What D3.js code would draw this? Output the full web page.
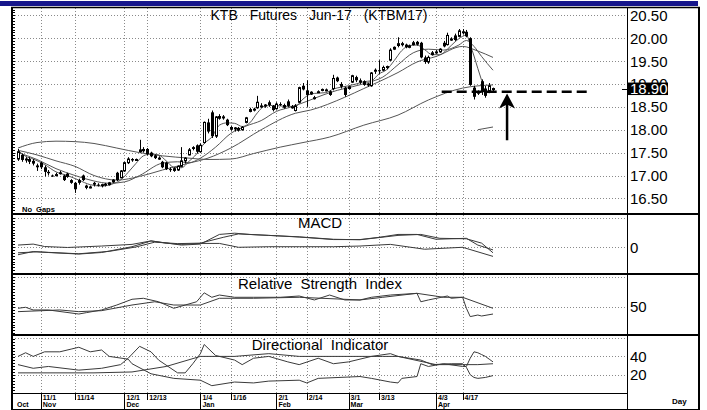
<!DOCTYPE html>
<html>
<head>
<meta charset="utf-8">
<script src="https://cdn.jsdelivr.net/npm/d3@7"></script>
<style>
  body { margin: 0; background: #fff; }
  svg { display: block; }
  text { font-family: Arial, "Liberation Sans", sans-serif; fill: #000; }
</style>
</head>
<body>
<div id="chart"></div>
<script>
// daily KTB futures candles, one per trading day (day 0 = late October)
const opens = [17.36,17.45,17.34,17.36,17.32,17.22,17.28,17.18,17.08,17.00,17.02,17.07,17.00,16.98,16.90,16.84,16.90,17.00,16.78,16.75,
  16.84,16.80,16.78,16.82,16.80,16.86,17.06,16.95,17.10,17.28,17.36,17.34,17.52,17.58,17.58,17.50,17.44,17.38,17.30,17.28,
  17.14,17.16,17.12,17.20,17.32,17.45,17.62,17.66,17.52,17.72,18.16,18.38,17.86,18.30,18.26,18.22,18.06,18.02,18.04,18.00,
  18.16,18.40,18.44,18.48,18.52,18.52,18.60,18.52,18.46,18.56,18.54,18.62,18.50,18.42,18.60,18.96,18.86,18.78,18.70,18.82,
  18.86,18.86,18.84,18.90,19.14,19.00,18.92,18.90,19.04,19.15,19.08,19.06,18.98,18.96,19.28,19.30,19.30,19.36,19.52,19.76,
  19.84,19.86,19.86,19.80,19.86,19.92,19.90,19.58,19.48,19.64,19.68,19.70,19.90,19.86,19.98,20.06,20.04,20.12,20.14,20.00,
  18.92,18.80,19.06,18.90,18.84,18.88];
const highs = [17.58,17.48,17.40,17.40,17.36,17.26,17.30,17.22,17.12,17.02,17.06,17.10,17.02,17.06,16.92,16.86,16.93,17.02,16.80,16.78,
  16.86,16.83,16.82,16.84,16.86,16.92,17.08,17.12,17.30,17.40,17.38,17.37,17.78,17.62,17.60,17.52,17.46,17.42,17.32,17.30,
  17.18,17.18,17.22,17.62,17.40,17.60,17.64,17.68,17.70,18.18,18.24,18.42,18.30,18.34,18.32,18.24,18.08,18.06,18.06,18.08,
  18.28,18.48,18.48,18.74,18.58,18.56,18.64,18.54,18.60,18.60,18.57,18.66,18.54,18.56,18.94,19.02,19.08,18.84,18.74,18.86,
  18.90,18.90,18.86,19.20,19.16,19.04,18.94,18.96,19.20,19.18,19.12,19.08,19.02,19.26,19.34,19.52,19.40,19.40,19.78,19.82,
  20.02,19.92,19.88,19.86,19.94,19.94,19.92,19.62,19.62,19.72,19.74,19.78,19.94,20.12,20.02,20.10,20.20,20.20,20.18,20.02,
  18.96,18.86,19.10,18.96,19.02,18.92];
const lows = [17.32,17.30,17.28,17.25,17.22,17.10,17.14,16.98,17.00,16.97,16.98,17.02,16.88,16.95,16.82,16.62,16.80,16.88,16.70,16.72,
  16.76,16.76,16.74,16.76,16.78,16.84,16.88,16.94,17.08,17.25,17.30,17.32,17.50,17.50,17.44,17.40,17.36,17.34,17.16,17.12,
  17.08,17.08,17.10,17.18,17.26,17.44,17.55,17.48,17.50,17.70,17.92,17.82,17.82,18.22,18.22,18.08,17.98,17.96,17.96,17.98,
  18.14,18.38,18.40,18.46,18.48,18.48,18.50,18.40,18.44,18.52,18.46,18.50,18.46,18.40,18.58,18.86,18.50,18.76,18.66,18.80,
  18.84,18.84,18.74,18.86,19.04,18.90,18.72,18.88,19.02,19.04,19.00,18.96,18.94,18.94,19.22,19.22,19.28,19.32,19.50,19.74,
  19.80,19.82,19.78,19.78,19.84,19.84,19.56,19.44,19.44,19.62,19.66,19.68,19.80,19.84,19.94,19.94,20.02,20.08,20.02,18.96,
  18.66,18.76,18.76,18.70,18.80,18.84];
const closes = [17.52,17.34,17.36,17.30,17.26,17.18,17.18,17.08,17.05,16.99,17.02,17.03,16.90,17.03,16.84,16.70,16.84,16.90,16.73,16.75,
  16.80,16.78,16.80,16.78,16.84,16.90,16.90,17.10,17.28,17.36,17.33,17.35,17.56,17.53,17.47,17.42,17.38,17.38,17.18,17.14,
  17.12,17.10,17.20,17.32,17.38,17.56,17.58,17.52,17.66,18.16,17.96,17.86,18.28,18.24,18.28,18.10,18.00,18.04,17.98,18.05,
  18.26,18.44,18.45,18.60,18.52,18.54,18.54,18.43,18.56,18.55,18.48,18.52,18.50,18.52,18.92,18.88,18.76,18.82,18.70,18.83,
  18.88,18.87,18.76,19.12,19.06,18.94,18.76,18.94,19.18,19.08,19.03,18.98,19.00,19.24,19.30,19.28,19.36,19.38,19.74,19.80,
  19.88,19.88,19.80,19.83,19.90,19.86,19.58,19.48,19.58,19.68,19.70,19.76,19.82,20.06,19.98,19.96,20.16,20.14,20.04,18.98,
  18.72,18.82,18.82,18.74,18.96,18.90];

// moving averages: [day, price]
const maShort = [[0,17.55],[2,17.42],[4,17.36],[7,17.24],[10,17.08],[13,17.0],[16,16.9],[19,16.8],[22,16.77],[25,16.82],[27,16.9],
  [29,17.07],[31,17.26],[33,17.43],[35,17.47],[37,17.45],[39,17.32],[41,17.18],[43,17.17],[45,17.31],[47,17.47],[49,17.7],
  [51,17.84],[53,18.1],[55,18.15],[57,18.14],[59,18.07],[61,18.15],[63,18.37],[65,18.52],[67,18.53],[69,18.52],[71,18.51],
  [73,18.51],[75,18.67],[77,18.78],[79,18.8],[81,18.81],[83,18.89],[85,18.93],[87,18.96],[89,19.0],[91,19.05],[93,19.07],
  [95,19.22],[97,19.31],[99,19.51],[101,19.73],[103,19.84],[105,19.85],[107,19.75],[109,19.64],[111,19.64],[113,19.76],
  [115,19.92],[117,20.04],[118,20.07],[119,19.86],[120,19.61],[121,19.34],[122,19.08],[123,18.82],[124,18.81],[125,18.85]];
const maMid = [[0,17.5],[5,17.35],[10,17.15],[15,17.0],[20,16.88],[24,16.83],[28,16.86],[32,17.0],[38,17.27],[42,17.3],[45,17.28],
  [48,17.38],[52,17.62],[56,17.92],[60,18.08],[64,18.2],[68,18.4],[72,18.5],[76,18.62],[80,18.75],[84,18.86],[88,18.94],
  [92,19.03],[96,19.15],[100,19.42],[104,19.68],[108,19.76],[112,19.74],[116,19.85],[118,19.95],[120,19.82],[122,19.6],[125,19.3]];
const maSlow = [[0,17.55],[5,17.45],[10,17.32],[15,17.2],[20,17.0],[26,16.9],[32,16.98],[38,17.12],[45,17.27],[50,17.38],
  [56,17.6],[64,18.0],[73,18.36],[77,18.43],[86,18.71],[91,18.9],[95,19.05],[100,19.25],[105,19.48],[110,19.6],[117,19.82],
  [121,19.72],[125,19.58]];
const maLong = [[0,17.6],[5,17.72],[10,17.75],[15,17.74],[20,17.7],[26,17.6],[32,17.5],[38,17.43],[45,17.38],[50,17.35],
  [56,17.36],[62,17.48],[69,17.62],[75,17.72],[82,17.84],[91,18.1],[100,18.32],[108,18.65],[117,18.91],[125,18.98]];
const maStub = [[121,18.0],[125,18.06]];

// MACD panel: [day, value]
const macdLine = [[0,-0.08],[4,-0.047],[8,-0.057],[16,-0.073],[22,-0.057],[30,0.003],[35,0.063],[43,0.02],[48,0.03],[53,0.13],
  [57,0.143],[61,0.13],[66,0.12],[74,0.103],[83,0.077],[90,0.077],[95,0.1],[100,0.13],[105,0.13],[110,0.08],[118,0.09],
  [121,0.02],[125,-0.03]];
const macdSignal = [[0,-0.06],[5,-0.05],[16,-0.07],[24,-0.045],[31,0.0],[36,0.05],[42,0.035],[48,0.04],[54,0.1],[58,0.135],
  [66,0.12],[74,0.105],[83,0.08],[90,0.075],[100,0.12],[106,0.13],[111,0.09],[118,0.085],[122,0.04],[125,-0.06]];
const macdDiff = [[0,0.02],[4,0.03],[7,0.005],[13,-0.005],[22,0.01],[30,0.027],[35,0.063],[39,0.04],[43,0.027],[48,0.037],
  [53,0.037],[58,-0.003],[66,0.003],[74,0.003],[83,0.003],[90,0.01],[98,0.027],[107,-0.023],[117,-0.003],[125,-0.097]];

// RSI panel
const rsi = [[0,48.4],[2,49.4],[4,46.7],[8,46.7],[16,42.6],[18,44],[22,46.7],[26,51.7],[30,57.5],[33,58.5],[37,55],[41,48.4],
  [44,51.7],[47,55],[49,64],[51,59.5],[53,61.8],[57,59.5],[62,59.5],[69,59.5],[74,60.8],[78,56.8],[82,61.8],[86,56.8],
  [90,56.8],[93,59.5],[98,61.8],[105,63.5],[106,55],[108,56.8],[113,60.8],[114,58.5],[117,59.5],[118,48.4],[119,40],
  [121,41.6],[122,40.6],[125,42.6]];
const rsiAvg = [[0,45],[11,46.7],[16,45],[22,46],[30,51.7],[36,55],[41,51.7],[48,51.7],[53,58.5],[62,58.5],[74,59.5],
  [90,56.8],[96,59.5],[105,63.5],[112,59.5],[117,59.5],[125,48.4]];

// Directional indicator panel
const diMinus = [[0,40],[2,44],[4,40],[7,45],[11,45],[14,48],[16,50],[19,45],[22,47],[24,40],[29,37],[30,32],[35,21],[41,16],
  [48,14],[51,8],[57,12],[62,11],[66,13],[74,14],[76,11],[79,16],[90,18],[93,16],[98,12],[100,11],[101,16],[105,18],
  [106,32],[108,29],[112,32],[117,29],[118,29],[119,38],[120,45],[121,44],[122,42],[123,40],[124,37],[125,34]];
const diPlus = [[0,31],[4,27],[8,29],[16,25],[22,27],[27,31],[29,38],[32,51],[35,45],[37,36],[42,22],[44,22],[46,32],[48,43],
  [49,53],[52,41],[57,36],[59,31],[62,38],[66,40],[71,34],[74,31],[79,38],[83,32],[87,34],[93,40],[98,43],[100,40],
  [106,36],[109,31],[114,32],[117,32],[118,28],[119,20],[120,17],[121,16],[123,17],[125,19]];
const adx = [[0,22],[10,22],[20,22],[30,23],[39,29],[48,40],[57,40],[66,43],[74,40],[90,40],[96,40],[100,40],[110,31],
  [117,31],[121,31],[125,32]];

// axis labels
const priceTicks = [16.5, 17, 17.5, 18, 18.5, 19, 19.5, 20, 20.5];
const tickDays = [6, 15, 28, 34, 48, 56, 68, 76, 87, 95, 110, 117];
const tickLabels = ["11/1", "11/14", "12/1", "12/13", "1/4", "1/16", "2/1", "2/14", "3/1", "3/13", "4/3", "4/17"];
const monthDays = [6, 28, 48, 68, 87, 110];
const monthLabels = ["Nov", "Dec", "Jan", "Feb", "Mar", "Apr"];
const lastPrice = 18.90;
const supportLevel = 18.83, supportFrom = 111.5, supportTo = 150;
const arrowDay = 128.7, arrowFrom = 17.77, arrowTo = 18.79;

const svg = d3.select("#chart").append("svg").attr("width", 707).attr("height", 410);

const left = 12, right = 627, edge = 699;
const x = d3.scaleLinear().domain([0, 125]).range([18, 493]);
const yP = d3.scaleLinear().domain([16.5, 20.5]).range([198.4, 15.3]);
const yM = d3.scaleLinear().domain([0, 0.3]).range([247, 218]);
const yR = d3.scaleLinear().domain([50, 80]).range([306.7, 277]);
const yD = d3.scaleLinear().domain([0, 40]).range([393, 356.4]);
const px = v => Math.round(v) + 0.5;

// blue strip on top
svg.append("rect").attr("x", 0).attr("y", 1).attr("width", 698).attr("height", 5).attr("fill", "#16168c");

// grid
const grid = svg.append("g").attr("stroke", "#8a8a8a").attr("stroke-dasharray", "1,2").attr("stroke-width", 1);
grid.selectAll("line.v").data(tickDays).join("line")
    .attr("x1", d => px(x(d))).attr("x2", d => px(x(d)))
    .attr("y1", 8).attr("y2", 393);
const hgrid = [
  ...priceTicks.map(yP),
  ...[0, 0.3].map(yM),
  ...[50, 80].map(yR),
  ...[20, 40, 60].map(yD)
];
grid.selectAll("line.h").data(hgrid).join("line")
    .attr("x1", left).attr("x2", right)
    .attr("y1", d => px(d)).attr("y2", d => px(d));

// left ruler ticks
const ruler = [
  ...d3.range(16.25, 20.8, 0.0625).map(yP).filter(v => v > 9 && v < 212),
  ...d3.range(-0.27, 0.33, 0.03).map(yM).filter(v => v > 216 && v < 273),
  ...d3.range(20, 82, 3).map(yR).filter(v => v > 276 && v < 334),
  ...d3.range(0, 64, 3.3).map(yD).filter(v => v > 337 && v < 392)
];
svg.append("g").selectAll("line").data(ruler).join("line")
    .attr("x1", left).attr("x2", left + 3)
    .attr("y1", d => px(d)).attr("y2", d => px(d))
    .attr("stroke", "#000");

// frame
const frame = svg.append("g").attr("stroke", "#000");
frame.append("line").attr("x1", 11).attr("x2", edge + 1).attr("y1", 7.5).attr("y2", 7.5).attr("stroke-width", 1.5);
frame.append("line").attr("x1", 12).attr("x2", 12).attr("y1", 7).attr("y2", 410).attr("stroke-width", 2);
frame.append("line").attr("x1", edge).attr("x2", edge).attr("y1", 7).attr("y2", 410).attr("stroke-width", 2);
frame.append("line").attr("x1", right + 0.5).attr("x2", right + 0.5).attr("y1", 7).attr("y2", 410);
[214, 274, 335].forEach(yy => frame.append("line").attr("x1", 11).attr("x2", edge)
    .attr("y1", yy).attr("y2", yy).attr("stroke-width", 2));
frame.append("line").attr("x1", 11).attr("x2", right).attr("y1", 393.5).attr("y2", 393.5);
frame.append("line").attr("x1", 11).attr("x2", edge).attr("y1", 409.5).attr("y2", 409.5);

// moving averages
const maLine = d3.line().x(d => x(d[0])).y(d => yP(d[1])).curve(d3.curveMonotoneX);
svg.append("g").attr("fill", "none").attr("stroke", "#555").attr("stroke-width", 1)
  .selectAll("path").data([maLong, maSlow, maMid, maShort, maStub]).join("path")
    .attr("d", maLine);

// candles
const candles = closes.map((c, i) => ({ i, o: opens[i], h: highs[i], l: lows[i], c }));
const cg = svg.append("g");
cg.selectAll("line").data(candles).join("line")
    .attr("x1", d => px(x(d.i))).attr("x2", d => px(x(d.i)))
    .attr("y1", d => yP(d.h)).attr("y2", d => yP(d.l))
    .attr("stroke", "#000");
cg.selectAll("rect").data(candles).join("rect")
    .attr("x", d => Math.round(x(d.i)) - (d.c >= d.o ? 0.5 : 1))
    .attr("y", d => yP(Math.max(d.o, d.c)))
    .attr("width", d => d.c >= d.o ? 2 : 3)
    .attr("height", d => Math.max(1, Math.abs(yP(d.o) - yP(d.c))))
    .attr("fill", d => d.c >= d.o ? "#fff" : "#000")
    .attr("stroke", d => d.c >= d.o ? "#000" : "none");

// indicator lines
const ind = svg.append("g").attr("fill", "none").attr("stroke", "#3a3a3a").attr("stroke-width", 1);
const lineOn = y => d3.line().x(d => x(d[0])).y(d => y(d[1]));
[macdDiff, macdSignal, macdLine].forEach(s => ind.append("path").attr("d", lineOn(yM)(s)));
[rsiAvg, rsi].forEach(s => ind.append("path").attr("d", lineOn(yR)(s)));
[adx, diPlus, diMinus].forEach(s => ind.append("path").attr("d", lineOn(yD)(s)));

// support line and arrow
svg.append("line")
    .attr("x1", x(supportFrom)).attr("x2", x(supportTo))
    .attr("y1", yP(supportLevel)).attr("y2", yP(supportLevel))
    .attr("stroke", "#000").attr("stroke-width", 2.5).attr("stroke-dasharray", "10,5");
const ax = x(arrowDay), ay0 = yP(arrowFrom), ay1 = yP(arrowTo);
svg.append("line").attr("x1", ax).attr("x2", ax).attr("y1", ay0).attr("y2", ay1 + 10)
    .attr("stroke", "#000").attr("stroke-width", 2.5);
svg.append("path")
    .attr("d", `M${ax},${ay1} L${ax - 8},${ay1 + 15} L${ax},${ay1 + 11} L${ax + 8},${ay1 + 15} Z`)
    .attr("fill", "#000");

// price axis labels
svg.append("g").selectAll("text").data(priceTicks).join("text")
    .attr("x", 630).attr("y", d => yP(d) + 5.5)
    .attr("font-size", 15)
    .text(d => d.toFixed(2));
svg.append("line").attr("x1", 622).attr("x2", 628).attr("y1", px(yP(lastPrice))).attr("y2", px(yP(lastPrice)))
    .attr("stroke", "#000");
svg.append("rect").attr("x", 628).attr("y", yP(lastPrice) - 6).attr("width", 40).attr("height", 12.5).attr("fill", "#000");
svg.append("text").attr("x", 630).attr("y", yP(lastPrice) + 5.5).attr("font-size", 15)
    .style("fill", "#fff").text(lastPrice.toFixed(2));

// indicator axis labels
svg.append("text").attr("x", 630).attr("y", yM(0) + 5.5).attr("font-size", 15).text("0");
svg.append("text").attr("x", 630).attr("y", yR(50) + 5.5).attr("font-size", 15).text("50");
[20, 40].forEach(v => svg.append("text").attr("x", 630).attr("y", yD(v) + 5.5).attr("font-size", 15).text(v));

// titles
svg.append("text").attr("x", 319).attr("y", 20).attr("text-anchor", "middle").attr("font-size", 14)
    .attr("word-spacing", 8).text("KTB Futures Jun-17 (KTBM17)");
svg.append("text").attr("x", 320).attr("y", 228).attr("text-anchor", "middle").attr("font-size", 15).text("MACD");
svg.append("text").attr("x", 320).attr("y", 289).attr("text-anchor", "middle").attr("font-size", 15)
    .attr("word-spacing", 4).text("Relative Strength Index");
svg.append("text").attr("x", 320).attr("y", 350).attr("text-anchor", "middle").attr("font-size", 15)
    .attr("word-spacing", 4).text("Directional Indicator");
svg.append("text").attr("x", 22).attr("y", 211.5).attr("font-size", 7.5).attr("font-weight", "bold")
    .attr("word-spacing", 2).text("No Gaps");

// date axis
const dax = svg.append("g");
dax.selectAll("line.d").data(tickDays).join("line")
    .attr("x1", d => px(x(d))).attr("x2", d => px(x(d)))
    .attr("y1", 393).attr("y2", 400).attr("stroke", "#000");
dax.selectAll("line.m").data(monthDays).join("line")
    .attr("x1", d => px(x(d))).attr("x2", d => px(x(d)))
    .attr("y1", 400).attr("y2", 409).attr("stroke", "#000");
dax.selectAll("text.d").data(tickDays).join("text")
    .attr("x", (d, i) => x(d) + 2).attr("y", 399.5)
    .attr("font-size", 7).attr("font-weight", "bold")
    .text((d, i) => tickLabels[i]);
dax.selectAll("text.m").data(monthDays).join("text")
    .attr("x", d => x(d) + 2).attr("y", 407)
    .attr("font-size", 7).attr("font-weight", "bold")
    .text((d, i) => monthLabels[i]);
dax.append("text").attr("x", 17).attr("y", 407).attr("font-size", 7).attr("font-weight", "bold").text("Oct");
dax.append("text").attr("x", 672).attr("y", 404).attr("font-size", 8).attr("font-weight", "bold").text("Day");
</script>
</body>
</html>
